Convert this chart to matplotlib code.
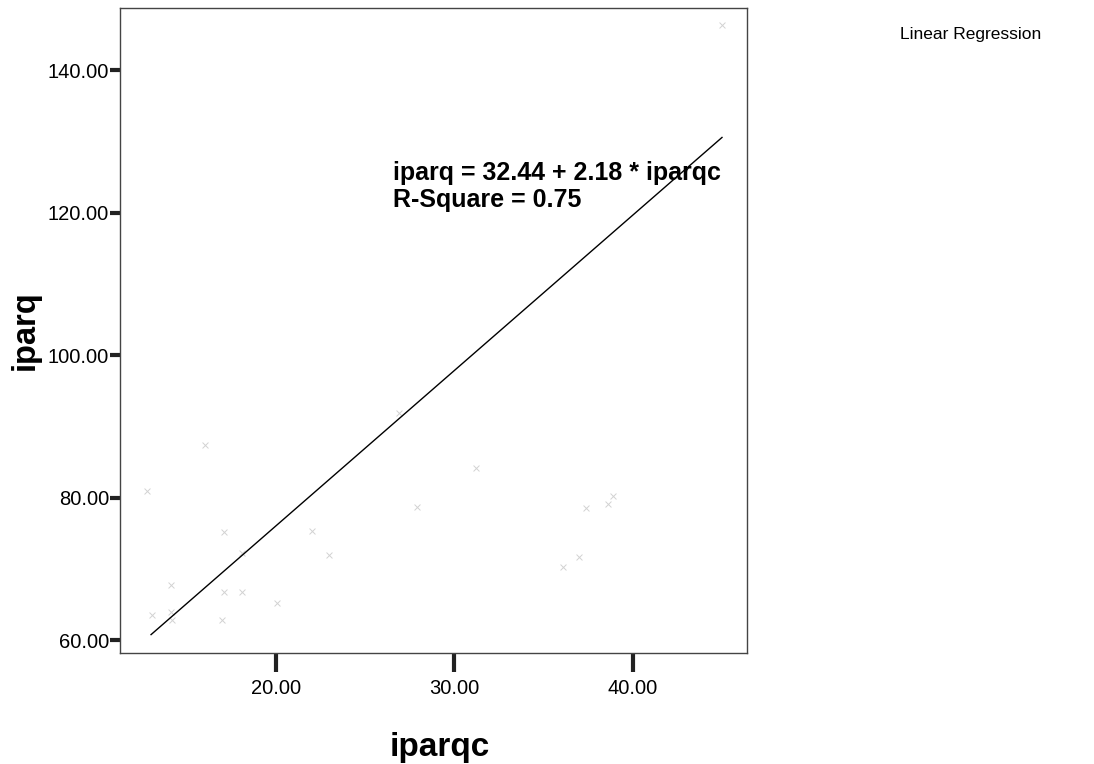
import matplotlib
matplotlib.use("Agg")
import matplotlib.pyplot as plt
import numpy as np

plt.rcParams['font.family'] = ['Liberation Sans', 'DejaVu Sans']

# observed points (faint markers in the reference)
iparqc = [12.8, 16.0, 17.1, 18.1, 14.1, 13.05, 14.2, 14.1, 17.1, 18.1, 17.0,
          20.05, 22.0, 23.0, 26.9, 31.2, 27.9, 38.9, 38.6, 37.4, 37.0, 36.1, 45.0]
iparq = [80.9, 87.4, 75.2, 72.2, 67.7, 63.5, 62.8, 63.9, 66.7, 66.7, 62.8,
         65.2, 75.3, 71.9, 91.9, 84.1, 78.7, 80.2, 79.1, 78.5, 71.6, 70.2, 146.3]

intercept = 32.44
slope = 2.18
r_square = 0.75
fit_range = [13.0, 45.0]

xticks = [20, 30, 40]
yticks = [60, 80, 100, 120, 140]

fig = plt.figure(figsize=(10.94, 7.64), dpi=100)
ax = fig.add_axes([0.1097, 0.1453, 0.5731, 0.8442])

ax.scatter(iparqc, iparq, marker='x', s=18, color='#d2d2d2', linewidths=0.7)

xs = np.array(fit_range)
ax.plot(xs, intercept + slope * xs, color='black', linewidth=1.0)

ax.set_xlim(11.26, 46.4)
ax.set_ylim(58.2, 148.7)
ax.set_xticks(xticks)
ax.set_yticks(yticks)
ax.set_xticklabels([f"{v:.2f}" for v in xticks])
ax.set_yticklabels([f"{v:.2f}" for v in yticks])
ax.tick_params(axis='x', direction='out', length=14, width=3, color='#222222',
               labelsize=14.5, pad=5)
ax.tick_params(axis='y', direction='out', length=7, width=3, color='#222222',
               labelsize=14.5, pad=1)
for s in ax.spines.values():
    s.set_color('#444444')
    s.set_linewidth(1.0)

ax.set_xlabel('iparqc', fontsize=24, fontweight='bold', labelpad=24)
ax.xaxis.label.set_x(0.51)
ax.set_ylabel('iparq', fontsize=23.5, fontweight='bold', labelpad=5)

ax.text(26.55, 127.2, f"iparq = {intercept:.2f} + {slope:.2f} * iparqc\nR-Square = {r_square:.2f}",
        fontsize=18, fontweight='bold', ha='left', va='top', linespacing=1.12)

fig.text(0.823, 0.955, 'Linear Regression', fontsize=12.5, ha='left', va='center')

fig.savefig('out.png', dpi=100, facecolor='white')
